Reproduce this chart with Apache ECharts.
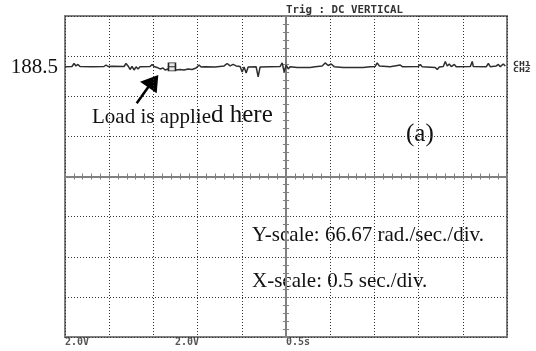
<!DOCTYPE html>
<html>
<head>
<meta charset="utf-8">
<script src="https://cdn.jsdelivr.net/npm/echarts@6/dist/echarts.min.js"></script>
<style>
html, body { margin: 0; padding: 0; background: #fff; }
#scope { width: 536px; height: 351px; }
</style>
</head>
<body>
<div id="scope"></div>
<script>
// scope trace: time from left edge of screen (s), speed (rad/s)
const timeSec = [
    0.000, 0.079, 0.102, 0.124, 0.147, 0.170, 0.306, 0.317, 0.328, 0.441,
    0.464, 0.487, 0.509, 0.532, 0.668, 0.690, 0.713, 0.736, 0.758, 0.781,
    0.804, 0.826, 0.849, 0.962, 0.985, 1.008, 1.041, 1.075, 1.109, 1.132,
    1.166, 1.211, 1.257, 1.302, 1.347, 1.392, 1.438, 1.483, 1.517, 1.540,
    1.585, 1.698, 1.800, 1.834, 1.868, 1.902, 1.936, 1.981, 2.004, 2.026,
    2.049, 2.072, 2.162, 2.185, 2.207, 2.321, 2.434, 2.457, 2.479, 2.502,
    2.525, 2.547, 2.626, 2.774, 2.830, 2.909, 2.943, 2.977, 3.011, 3.045,
    3.147, 3.373, 3.453, 3.509, 3.532, 3.555, 3.679, 3.792, 3.815, 3.996,
    4.019, 4.041, 4.188, 4.211, 4.234, 4.279, 4.302, 4.324, 4.347, 4.370,
    4.404, 4.426, 4.585, 4.607, 4.619, 4.766, 4.789, 4.811, 4.879, 4.902,
    4.924, 4.958, 4.981
];
const speedRad = [
    182.5, 182.8, 187.8, 183.7, 186.2, 182.8, 182.3, 180.3, 182.5, 182.8,
    185.3, 182.8, 184.5, 183.2, 182.8, 187.8, 183.7, 177.8, 182.8, 177.0,
    182.3, 178.7, 182.5, 182.8, 186.2, 182.8, 181.2, 178.7, 180.3, 177.0,
    178.7, 177.8, 177.0, 177.8, 177.0, 178.7, 177.8, 180.3, 185.3, 182.0,
    182.5, 182.0, 183.7, 187.8, 183.7, 186.2, 183.7, 182.8, 173.7, 182.0,
    172.0, 182.0, 182.5, 165.4, 182.0, 182.5, 182.8, 188.7, 173.7, 185.3,
    178.7, 182.5, 181.2, 181.2, 182.5, 183.7, 188.7, 184.5, 187.0, 182.5,
    181.2, 181.2, 182.5, 182.8, 188.7, 183.7, 182.5, 185.3, 182.5, 182.8,
    186.2, 182.5, 181.2, 177.8, 182.0, 182.8, 191.2, 183.7, 187.0, 182.5,
    186.2, 182.5, 182.8, 191.2, 182.8, 182.5, 187.8, 182.5, 183.7, 186.2,
    182.5, 187.0, 183.7
];
// trigger cursor boxes
const markerTime = 1.21;
const markerSpeed = [185.5, 178.8];
const bottomLabels = ['2.0V', '2.0V', '0.5s'];

const divSec = 0.5, divRad = 66.67;
const halfT = divSec * 5, halfV = divRad * 4;
const gridCol = '#808080';

const chart = echarts.init(document.getElementById('scope'));

const tickAxis = (extra) => Object.assign({
    type: 'value',
    axisLine: { onZero: true, onZeroAxisIndex: 0, lineStyle: { color: gridCol, width: 2 } },
    axisTick: { show: true, length: 3, lineStyle: { color: gridCol, width: 1 } },
    minorTick: { show: true, splitNumber: 5, length: 3, lineStyle: { color: gridCol, width: 1 } },
    axisLabel: { show: false },
    splitLine: { show: false }
}, extra);

const dotted = { show: true, lineStyle: { type: [1, 2], color: '#333', width: 1 } };
const serif = 'Liberation Serif';
const mono = 'DejaVu Sans Mono';

chart.setOption({
    animation: false,
    backgroundColor: '#fff',
    grid: { left: 65, top: 16, right: 29, bottom: 14, show: true, borderColor: gridCol, borderWidth: 2 },
    xAxis: [
        tickAxis({ min: -halfT, max: halfT, interval: divSec, splitLine: dotted }),
        tickAxis({ position: 'top', min: -halfT, max: halfT, interval: divSec })
    ],
    yAxis: [
        tickAxis({ min: -halfV, max: halfV, interval: divRad, splitLine: dotted }),
        tickAxis({ position: 'right', min: -halfV, max: halfV, interval: divRad })
    ],
    series: [{
        type: 'line',
        data: timeSec.map((t, i) => [t - halfT, speedRad[i]]),
        showSymbol: false,
        lineStyle: { color: '#2e2e2e', width: 1.5 },
        markPoint: {
            symbol: 'rect',
            symbolSize: [7, 4],
            label: { show: false },
            itemStyle: { color: '#e8e8e8', borderColor: '#222', borderWidth: 1.2 },
            data: markerSpeed.map(v => ({ coord: [markerTime - halfT, v] }))
        }
    }],
    graphic: [
        { type: 'text', x: 286, y: 10, style: { text: 'Trig : DC VERTICAL', font: 'bold 10.8px ' + mono, fill: '#333', verticalAlign: 'middle' } },
        { type: 'text', x: 58, y: 67, style: { text: '188.5', font: '21px ' + serif, fill: '#111', align: 'right', verticalAlign: 'middle' } },
        { type: 'text', x: 513, y: 64, scaleX: 1.4, style: { text: 'CH1', font: 'bold 7px ' + mono, fill: '#333', verticalAlign: 'middle' } },
        { type: 'text', x: 513, y: 70, scaleX: 1.4, style: { text: 'CH2', font: 'bold 7px ' + mono, fill: '#333', verticalAlign: 'middle' } },
        { type: 'text', x: 65, y: 342, style: { text: bottomLabels[0], font: 'bold 10px ' + mono, fill: '#555', verticalAlign: 'middle' } },
        { type: 'text', x: 175, y: 342, style: { text: bottomLabels[1], font: 'bold 10px ' + mono, fill: '#555', verticalAlign: 'middle' } },
        { type: 'text', x: 286, y: 342, style: { text: bottomLabels[2], font: 'bold 10px ' + mono, fill: '#555', verticalAlign: 'middle' } },
        {
            type: 'text', x: 92, y: 128,
            style: {
                text: '{a|Load is applie}{b|d here}',
                verticalAlign: 'bottom',
                fill: '#111',
                rich: {
                    a: { fontFamily: serif, fontSize: 21, fill: '#111', verticalAlign: 'bottom' },
                    b: { fontFamily: serif, fontSize: 25, fill: '#111', verticalAlign: 'bottom' }
                }
            }
        },
        { type: 'text', x: 406, y: 134, style: { text: '(a)', font: '25px ' + serif, fill: '#111', verticalAlign: 'middle' } },
        { type: 'text', x: 252, y: 235, style: { text: 'Y-scale: 66.67 rad./sec./div.', font: '21px ' + serif, fill: '#111', verticalAlign: 'middle' } },
        { type: 'text', x: 252, y: 281, style: { text: 'X-scale: 0.5 sec./div.', font: '21px ' + serif, fill: '#111', verticalAlign: 'middle' } },
        { type: 'line', shape: { x1: 136.7, y1: 103.3, x2: 149, y2: 86 }, style: { stroke: '#000', lineWidth: 2.5 } },
        { type: 'polygon', shape: { points: [[158.3, 75], [140, 81.7], [156.7, 93.3]] }, style: { fill: '#000' } }
    ]
});
</script>
</body>
</html>
